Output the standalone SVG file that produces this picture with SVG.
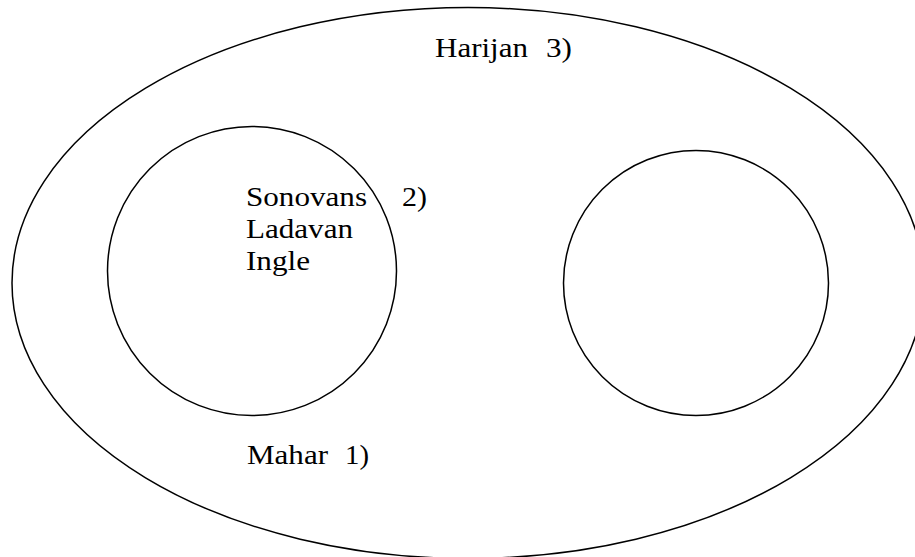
<svg xmlns="http://www.w3.org/2000/svg" width="915" height="557" viewBox="0 0 915 557">
<style>
.shape{fill:none;stroke:#000;stroke-width:1.5}
text{font-family:'Liberation Serif','Times New Roman',Times,serif;font-size:27px;fill:#000}
</style>
<rect x="0" y="0" width="915" height="557" fill="#fff"/>
<g id="harijan">
<ellipse class="shape" cx="468" cy="283" rx="456" ry="275.5"/>
<text x="435" y="57" textLength="93" lengthAdjust="spacingAndGlyphs">Harijan</text>
<text x="546" y="57" textLength="26" lengthAdjust="spacingAndGlyphs">3)</text>
</g>
<g id="sonovans">
<circle class="shape" cx="252" cy="271" r="144.5"/>
<text x="246" y="206" textLength="121" lengthAdjust="spacingAndGlyphs">Sonovans</text>
<text x="402" y="206" textLength="25" lengthAdjust="spacingAndGlyphs">2)</text>
<text x="246" y="238" textLength="107" lengthAdjust="spacingAndGlyphs">Ladavan</text>
<text x="246" y="270" textLength="64" lengthAdjust="spacingAndGlyphs">Ingle</text>
</g>
<g id="right-circle">
<circle class="shape" cx="696" cy="283" r="132.5"/>
</g>
<g id="mahar">
<text x="247" y="464" textLength="81" lengthAdjust="spacingAndGlyphs">Mahar</text>
<text x="345" y="464" textLength="24" lengthAdjust="spacingAndGlyphs">1)</text>
</g>
<g id="connectors"/>
</svg>
